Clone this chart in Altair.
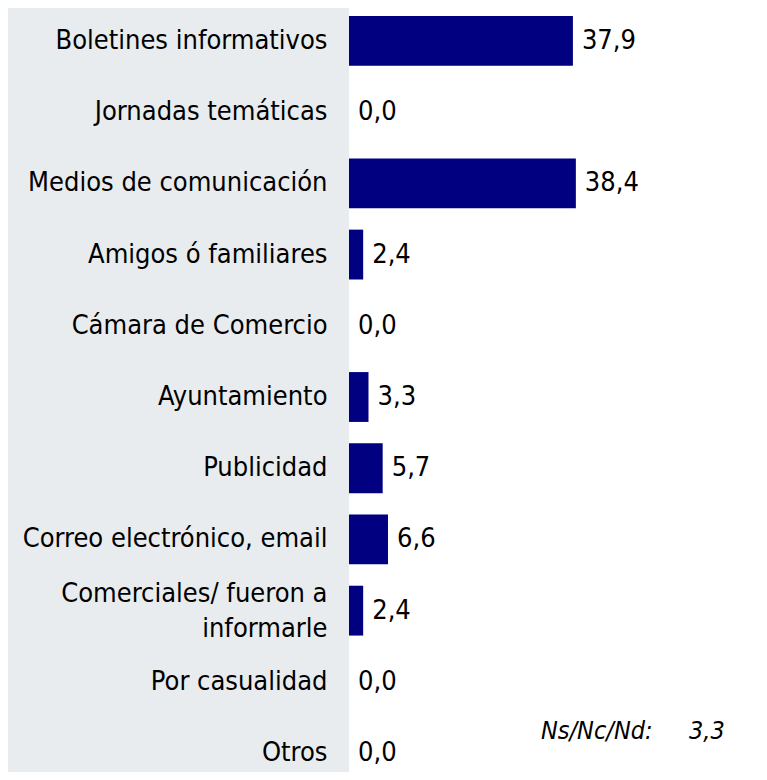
import altair as alt
import pandas as pd

categories = [
    "Boletines informativos",
    "Jornadas temáticas",
    "Medios de comunicación",
    "Amigos ó familiares",
    "Cámara de Comercio",
    "Ayuntamiento",
    "Publicidad",
    "Correo electrónico, email",
    "Comerciales/ fueron a informarle",
    "Por casualidad",
    "Otros",
]
values = [37.9, 0.0, 38.4, 2.4, 0.0, 3.3, 5.7, 6.6, 2.4, 0.0, 0.0]
note_label = "Ns/Nc/Nd:"
note_value = 3.3

df = pd.DataFrame({"cat": categories, "val": values})
df["txt"] = [f"{v:.1f}".replace(".", ",") for v in values]

FONT = "DejaVu Sans Condensed, DejaVu Sans"
FS = 27
MULTI = "Comerciales/ fueron a informarle"

y_enc = alt.Y(
    "cat:N",
    sort=categories,
    scale=alt.Scale(paddingInner=0.3, paddingOuter=0, range=[8, 770]),
    axis=alt.Axis(
        title=None,
        ticks=False,
        domain=False,
        grid=False,
        labelPadding=22,
        labelFont=FONT,
        labelFontSize=FS,
        labelColor="#000000",
        labelLimit=400,
        labelLineHeight=35,
        labelOffset={"condition": {"test": f"datum.label == '{MULTI}'", "value": -17}, "value": 0},
        labelExpr=f"datum.label == '{MULTI}' ? ['Comerciales/ fueron a', 'informarle'] : datum.label",
    ),
)
x_enc = alt.X("val:Q", scale=alt.Scale(domain=[0, 69.4], nice=False), axis=None)

bars = alt.Chart(df).mark_bar(color="#000080").encode(x=x_enc, y=y_enc)
labels = alt.Chart(df).mark_text(
    align="left", baseline="middle", dx=9, font=FONT, fontSize=FS, color="#000000"
).encode(x=x_enc, y=alt.Y("cat:N", sort=categories), text="txt:N")

note_df = pd.DataFrame({"a": [note_label], "b": [f"{note_value:.1f}".replace(".", ",")]})
note1 = alt.Chart(note_df).mark_text(
    align="left", baseline="middle", font=FONT, fontSize=25, fontStyle="italic", color="#000000"
).encode(x=alt.value(192), y=alt.value(723), text="a:N")
note2 = alt.Chart(note_df).mark_text(
    align="left", baseline="middle", font=FONT, fontSize=25, fontStyle="italic", color="#000000"
).encode(x=alt.value(340), y=alt.value(723), text="b:N")

chart = (
    alt.layer(bars, labels, note1, note2)
    .properties(
        width=410,
        height=764,
        autosize=alt.AutoSizeParams(type="none"),
        padding={"left": 341, "top": 0, "right": 0, "bottom": 0},
        background="#E9ECEE",
    )
    .configure_view(fill="#FFFFFF", stroke=None)
)

chart.save("out.html", embed_options={"renderer": "svg", "actions": False})
